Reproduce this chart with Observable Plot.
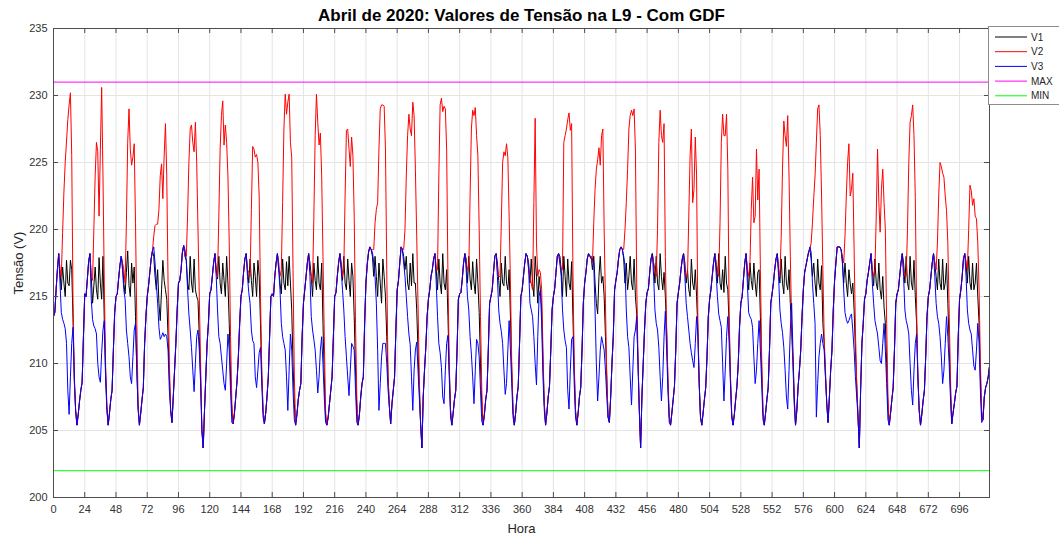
<!DOCTYPE html>
<html><head><meta charset="utf-8">
<script src="https://cdn.jsdelivr.net/npm/d3@7"></script>
<script src="https://cdn.jsdelivr.net/npm/@observablehq/plot@0.6"></script>
<style>
body{margin:0;background:#fff;}
#wrap{position:relative;width:1059px;height:538px;overflow:hidden;font-family:"Liberation Sans",Arial,sans-serif;}
#legend{position:absolute;left:988px;top:26px;}
</style></head><body><div id="wrap"></div>
<script>
// ---- labels ----
const titleText = "Abril de 2020: Valores de Tensão na L9 - Com GDF";
const xLabel = "Hora";
const yLabel = "Tensão (V)";
const seriesNames = ["V1", "V2", "V3", "MAX", "MIN"];
const seriesColors = ["#000000", "#ff0000", "#0000ff", "#ff00ff", "#00ff00"];
const xTicks = [0,24,48,72,96,120,144,168,192,216,240,264,288,312,336,360,384,408,432,456,480,504,528,552,576,600,624,648,672,696];
const yTicks = [200,205,210,215,220,225,230,235];
const xDomain = [0, 719];
const yDomain = [200, 235];
const maxLimit = 231;
const minLimit = 202;

// ---- values, hour by hour, one row per day of April ----
// hours 0-4 and 18-23 of each day: the three phases run together
const nightEnd = [
[213.5,213.8,215.5,217.0,218.2],[215.2,215.0,216.3,217.6,218.2],[215.0,215.2,216.3,217.3,218.0],[215.0,215.8,216.8,217.8,218.4],
[216.0,216.2,217.0,218.3,218.8],[215.2,215.5,216.5,217.5,218.2],[215.0,215.5,216.8,217.8,218.2],[215.2,215.0,216.5,217.5,218.2],
[214.5,215.5,216.5,217.5,218.2],[215.0,215.3,216.5,217.5,218.2],[216.0,217.4,218.3,218.7,218.5],[215.5,216.2,217.5,218.7,218.5],
[214.8,215.5,216.5,217.0,217.8],[215.2,215.3,216.3,217.5,218.2],[215.0,215.5,216.8,218.0,218.2],[215.5,216.5,217.5,218.2,218.0],
[215.0,215.6,216.8,218.0,218.2],[216.0,216.8,217.8,218.2,218.0],[216.2,216.8,217.8,218.5,218.7],[215.3,215.6,216.8,217.8,218.2],
[215.3,216.0,217.0,217.8,218.2],[214.8,215.5,216.5,217.5,218.2],[214.5,215.0,216.3,217.5,218.2],[215.2,216.0,217.0,217.8,218.2],
[215.5,216.8,217.3,217.8,218.3],[216.2,217.5,218.7,218.7,218.7],[215.2,216.2,216.8,217.5,218.2],[215.2,215.5,216.5,217.5,218.2],
[215.0,215.5,216.5,217.5,218.2],[214.8,215.5,216.5,217.8,218.2]
];
const nightStart = [
[205.4,206.2,207.2,208.0,208.6,212.0],[205.4,206.3,207.3,208.0,211.0,213.8],[205.4,206.3,207.3,208.2,211.5,213.5],[206.5,205.6,207.5,209.5,211.5,214.0],
[205.0,203.7,206.5,209.0,211.5,213.0],[205.5,206.3,207.5,208.7,210.5,213.0],[205.5,206.3,207.5,209.0,212.0,215.0],[205.4,206.2,207.3,208.0,208.5,212.0],
[205.4,206.0,207.0,208.0,209.0,212.0],[205.4,206.2,207.5,208.5,209.0,213.0],[206.8,205.5,207.0,208.0,209.0,212.5],[205.5,203.7,207.5,209.5,211.2,213.5],
[205.4,206.3,207.3,208.0,211.0,214.8],[205.4,206.2,207.3,208.0,211.0,214.5],[205.4,206.3,207.5,208.3,211.5,215.0],[205.4,206.3,207.5,208.3,211.0,214.0],
[205.4,206.3,207.5,208.2,211.0,214.5],[206.0,205.6,207.5,210.0,212.0,215.5],[206.5,203.7,207.5,210.0,212.5,214.5],[205.4,206.3,207.3,208.3,211.0,214.5],
[205.4,206.3,207.3,208.2,210.5,213.5],[205.4,206.2,207.3,208.3,210.0,212.8],[205.4,206.3,207.3,208.2,211.0,214.5],[205.4,206.5,208.3,209.5,211.0,213.5],
[207.0,205.6,207.5,209.5,211.0,214.0],[206.0,203.7,208.0,211.5,213.0,214.8],[205.4,206.3,207.3,208.2,211.0,214.5],[205.4,206.2,207.2,208.0,210.5,213.5],
[205.5,206.3,207.0,207.8,208.3,212.0],[205.8,207.5,208.2,208.5,209.0,209.8]
];
// hours 5-17 of each day, per phase
const v1Day = [
[216.8,215.5,217.2,216.0,215.0,217.7,216.0,215.8,217.7,217.0,213.3,208.8,206.5],
[216.5,214.5,215.8,217.2,215.5,214.8,217.9,216.0,214.8,218.0,213.2,209.0,206.5],
[217.5,216.0,215.2,216.8,218.4,215.8,215.0,217.5,216.0,217.2,213.5,209.5,206.6],
[218.0,216.5,215.5,217.0,214.5,213.2,215.5,217.7,216.2,215.5,214.8,212.0,209.0],
[218.0,217.7,216.0,215.5,218.0,216.0,215.3,217.8,215.5,215.0,214.7,212.0,209.0],
[217.0,216.3,218.0,216.0,215.2,217.5,216.2,215.0,218.0,216.0,213.0,209.0,206.5],
[217.0,216.0,217.8,216.2,215.0,217.5,216.5,215.0,217.7,216.5,213.0,209.0,206.5],
[217.5,216.0,215.2,217.8,216.0,215.5,217.6,215.8,218.0,216.0,214.0,210.0,207.0],
[217.5,216.5,215.0,217.5,216.2,215.5,218.0,216.0,215.5,217.5,213.0,209.0,206.0],
[217.5,216.2,218.0,216.0,215.5,217.8,216.2,215.0,217.5,216.5,213.5,209.5,206.5],
[218.0,216.5,218.0,216.5,215.0,217.5,216.0,214.5,217.8,216.5,215.0,212.0,209.0],
[218.0,217.0,218.0,216.0,215.5,217.5,215.8,218.2,216.0,216.0,214.0,211.0,208.0],
[218.2,217.0,215.5,217.8,216.0,215.2,218.2,216.0,215.5,217.0,213.5,209.5,206.5],
[217.8,216.0,218.0,216.3,215.5,217.6,216.0,215.2,217.8,216.0,213.8,210.0,206.8],
[217.5,216.2,215.0,217.5,216.0,215.8,218.0,216.0,215.5,217.0,213.5,209.5,206.5],
[217.5,216.0,217.8,216.0,215.0,218.0,216.5,214.5,216.5,215.5,214.0,210.0,207.0],
[218.0,217.0,215.0,218.0,216.5,215.0,217.8,216.0,215.5,217.6,213.5,209.5,206.5],
[218.0,217.0,218.0,216.0,214.5,213.7,216.5,218.0,216.0,216.5,215.0,212.0,209.0],
[218.5,217.8,216.0,217.5,215.5,216.5,218.0,216.0,215.5,217.8,215.0,213.7,210.0],
[217.5,216.0,218.0,216.0,215.5,218.2,216.5,215.5,216.8,215.0,212.5,208.5,206.0],
[217.5,216.0,217.0,215.5,215.0,217.8,216.0,215.5,217.0,215.0,212.5,208.5,206.0],
[217.5,216.0,218.2,216.0,215.5,217.0,215.3,218.0,216.0,215.5,212.8,209.0,206.2],
[217.0,215.5,217.5,216.2,215.5,217.5,216.0,215.0,216.8,217.0,213.5,209.5,206.3],
[217.0,216.0,217.8,216.0,215.2,218.0,216.0,215.5,217.0,214.5,212.5,210.0,207.0],
[218.5,217.8,216.5,217.5,216.0,215.0,217.8,216.0,215.5,217.3,213.0,211.5,209.0],
[218.5,217.5,216.0,217.5,216.0,215.0,217.0,216.0,215.2,216.0,214.0,211.0,208.5],
[217.0,215.8,217.8,216.0,215.5,217.5,215.5,214.8,216.5,214.2,213.0,210.0,206.8],
[217.5,216.0,218.0,216.0,215.5,218.0,216.0,215.5,217.7,215.0,213.0,209.0,206.5],
[217.5,216.5,215.5,217.8,216.0,215.5,217.8,215.5,216.0,217.5,214.5,211.5,208.0],
[217.5,216.0,218.0,216.0,215.5,217.5,215.5,216.0,217.5,215.0,213.0,209.0,206.0]
];
const v2Day = [
[217.0,216.5,219.8,222.8,225.0,226.6,228.2,229.3,230.2,225.5,214.5,208.5,206.5],
[216.5,216.2,220.0,224.0,226.5,225.8,221.0,226.0,230.6,224.0,216.0,210.0,206.8],
[217.5,217.0,216.0,220.5,226.5,229.0,226.0,224.8,225.4,226.4,220.5,213.0,207.0],
[219.5,220.3,220.4,220.4,221.5,224.0,224.9,222.3,225.5,227.9,224.0,216.0,210.0],
[218.0,218.0,221.0,225.0,227.5,227.8,226.5,225.8,228.0,225.0,220.0,215.0,210.0],
[216.8,216.5,221.0,226.0,228.5,229.6,226.3,227.8,226.5,224.0,219.0,212.0,207.0],
[217.0,216.8,216.5,221.5,226.2,226.0,225.4,225.6,225.0,222.5,215.0,209.5,206.5],
[217.0,216.5,217.0,222.0,227.5,230.1,228.6,229.5,230.1,226.5,225.4,217.0,209.0],
[217.0,216.5,216.0,221.0,227.0,230.1,228.0,226.3,227.2,224.0,218.0,212.0,206.5],
[217.2,216.5,217.0,222.5,227.4,227.5,226.0,224.7,226.9,225.5,221.0,213.0,207.5],
[218.5,218.5,220.5,221.5,222.0,226.0,229.0,229.3,229.3,229.2,226.0,217.0,209.0],
[218.5,220.0,224.0,227.0,228.6,227.5,227.0,229.5,228.5,224.5,219.5,214.5,209.0],
[218.2,217.0,217.0,224.0,229.3,229.8,228.8,229.2,229.0,226.0,216.5,210.0,206.5],
[217.5,217.0,217.0,222.5,227.5,228.9,228.5,229.1,227.0,225.5,220.0,213.5,208.0],
[217.0,216.5,216.5,220.5,225.0,225.8,225.5,226.4,225.4,221.0,216.0,210.0,206.5],
[217.0,216.5,216.0,215.5,222.0,228.3,219.0,216.5,217.0,216.8,215.5,211.0,207.0],
[217.5,217.0,217.0,226.5,227.0,227.5,228.2,228.7,227.4,227.9,217.0,210.0,206.5],
[218.0,217.5,220.5,223.0,224.5,225.2,226.1,224.8,227.0,227.5,220.0,214.5,209.0],
[218.5,218.5,220.0,222.0,224.5,227.5,228.5,228.9,228.5,229.0,226.0,216.0,210.5],
[217.5,217.0,216.5,220.0,226.5,228.9,227.0,226.5,227.9,218.0,212.5,209.0,206.0],
[217.0,216.5,216.5,221.0,225.5,227.5,222.0,223.0,226.9,224.0,213.0,208.5,206.0],
[217.5,217.0,216.5,220.5,226.5,228.6,227.0,227.0,228.6,224.5,214.0,209.0,206.0],
[217.0,216.5,217.5,221.5,223.9,220.5,221.0,226.0,222.2,224.5,217.0,210.5,206.5],
[217.0,216.5,219.5,224.5,228.1,227.0,226.2,228.5,224.0,218.0,213.0,210.5,207.5],
[218.5,219.0,220.5,222.4,224.0,226.5,229.0,229.3,227.0,222.5,217.0,212.0,209.5],
[218.5,218.0,217.5,219.5,222.5,225.0,226.4,222.5,223.0,224.2,218.5,212.5,208.5],
[217.0,216.5,217.0,221.0,226.0,222.0,219.8,223.0,224.5,222.0,220.0,213.0,207.5],
[217.0,216.5,216.5,220.0,225.0,228.0,228.5,229.3,227.0,222.4,214.0,209.0,206.5],
[217.5,217.0,219.0,222.5,225.0,224.7,224.2,223.9,222.5,221.4,219.0,214.0,209.0],
[217.5,217.0,220.0,223.3,222.9,221.8,222.3,221.0,220.8,219.0,215.5,210.0,206.5]
];
const v3Day = [
[216.0,213.8,213.3,213.0,212.6,211.5,208.0,206.2,209.0,211.5,212.7,209.0,206.5],
[214.8,213.3,212.8,212.6,212.2,210.0,209.0,208.6,210.8,212.5,213.2,209.5,206.8],
[217.0,215.5,214.8,212.5,211.5,210.5,209.0,208.5,210.5,212.5,213.0,209.5,206.6],
[218.7,217.5,216.0,214.5,212.7,211.8,212.0,212.3,212.0,212.2,212.0,211.0,208.0],
[218.5,217.7,215.5,213.7,212.5,211.2,209.5,207.9,210.0,212.0,212.5,211.0,208.5],
[216.5,214.0,212.0,211.5,210.5,209.5,208.5,208.0,210.0,212.2,211.0,208.0,205.6],
[216.5,215.3,214.5,212.5,211.7,211.5,209.0,208.2,209.5,210.8,211.2,208.5,206.0],
[217.0,215.5,213.0,212.0,211.5,211.0,209.0,206.5,209.5,212.2,211.0,208.0,205.8],
[216.5,213.5,212.5,211.8,211.0,209.5,207.8,209.0,211.0,212.0,210.0,207.5,205.6],
[217.0,215.5,214.0,212.0,210.5,209.0,207.6,209.5,211.5,211.3,211.0,208.0,205.6],
[218.3,217.5,216.5,214.5,211.0,206.5,208.5,210.5,211.5,211.5,211.5,210.0,208.0],
[217.5,216.5,215.0,213.5,212.2,211.4,209.0,206.5,209.5,211.0,211.6,209.5,207.5],
[218.2,216.0,213.5,211.5,210.8,209.7,207.5,207.0,209.5,211.5,212.1,209.0,206.0],
[217.0,215.0,214.0,212.0,210.7,209.0,207.0,209.5,211.8,211.5,210.5,208.0,205.7],
[216.5,214.0,213.0,212.4,211.5,209.5,207.7,208.5,211.0,213.2,211.0,208.5,206.0],
[217.0,214.5,214.0,213.5,212.0,210.0,208.4,212.0,215.0,215.5,213.0,209.0,206.5],
[217.5,216.5,214.0,212.5,211.7,211.2,208.0,206.6,209.5,211.8,212.0,208.5,206.0],
[217.8,217.8,217.5,214.0,210.0,207.2,209.0,211.0,212.0,211.5,211.0,209.5,207.5],
[218.5,218.0,217.3,214.0,212.0,211.2,209.0,206.9,209.5,212.0,212.5,213.5,210.0],
[216.5,214.0,213.0,212.5,211.2,209.0,207.2,209.0,212.0,213.9,211.0,208.0,205.6],
[216.5,214.5,213.5,212.5,211.5,210.8,210.2,209.7,211.5,213.5,212.0,208.5,206.0],
[216.8,215.0,213.7,213.2,212.7,210.0,207.2,209.5,212.0,213.5,211.5,208.5,206.0],
[216.0,213.8,213.5,213.3,212.7,210.5,208.5,209.5,211.5,213.2,211.0,208.5,205.8],
[216.5,214.0,213.0,212.3,211.2,209.5,207.5,206.6,209.5,212.5,214.5,211.0,207.5],
[218.7,218.3,216.0,214.5,213.0,206.0,208.5,210.5,211.5,212.2,211.5,211.0,209.0],
[218.5,217.8,215.5,213.8,213.3,213.0,213.2,213.5,213.7,212.5,211.0,209.0,207.5],
[216.0,214.5,213.2,212.7,212.2,211.2,210.2,210.0,211.5,213.0,211.0,208.5,205.8],
[216.5,214.0,213.2,212.8,212.2,210.0,208.0,206.9,209.5,211.5,212.2,209.0,206.5],
[216.5,214.5,213.5,213.0,212.0,210.5,208.5,209.5,211.5,213.5,212.0,210.0,207.5],
[216.5,214.0,213.0,212.5,212.2,211.0,209.8,209.5,211.0,213.0,211.5,208.0,205.6]
];

// ---- build the hourly table ----
function buildSeries(dayRows) {
  const out = [];
  for (let d = 0; d < dayRows.length; d++) {
    const vals = [...nightEnd[d], ...dayRows[d], ...nightStart[d]];
    vals.forEach((v, h) => out.push({hour: d * 24 + h, value: v}));
  }
  return out;
}
const s1 = buildSeries(v1Day), s2 = buildSeries(v2Day), s3 = buildSeries(v3Day);

const W = 1059, H = 538, mL = 53, mR = 70, mT = 28, mB = 41;
const innerW = W - mL - mR, innerH = H - mT - mB;
const axisColor = "#4d4d4d", gridColor = "#e4e4e4";
const font = '"Liberation Sans", Arial, sans-serif';

const chart = Plot.plot({
  width: W, height: H,
  marginLeft: mL, marginRight: mR, marginTop: mT, marginBottom: mB,
  x: {domain: xDomain, label: null},
  y: {domain: yDomain, label: null},
  style: {fontFamily: font, fontSize: "11px", color: "#333", background: "white"},
  marks: [
    Plot.ruleX(xTicks, {stroke: gridColor}),
    Plot.ruleY(yTicks, {stroke: gridColor}),
    Plot.line(s1, {x: "hour", y: "value", stroke: seriesColors[0], strokeWidth: 1}),
    Plot.line(s2, {x: "hour", y: "value", stroke: seriesColors[1], strokeWidth: 1}),
    Plot.line(s3, {x: "hour", y: "value", stroke: seriesColors[2], strokeWidth: 1}),
    Plot.ruleY([maxLimit], {stroke: seriesColors[3], strokeWidth: 1}),
    Plot.ruleY([minLimit], {stroke: seriesColors[4], strokeWidth: 1}),
    Plot.frame({stroke: axisColor}),
    Plot.ruleX(xTicks, {stroke: axisColor, insetTop: innerH - 5}),
    Plot.ruleX(xTicks, {stroke: axisColor, insetBottom: innerH - 5}),
    Plot.ruleY(yTicks, {stroke: axisColor, insetRight: innerW - 5}),
    Plot.ruleY(yTicks, {stroke: axisColor, insetLeft: innerW - 5}),
    Plot.axisX({ticks: xTicks, tickSize: 0, tickPadding: 8, fontSize: 11}),
    Plot.axisY({ticks: yTicks, tickSize: 0, tickPadding: 6, fontSize: 11}),
    Plot.text([titleText], {frameAnchor: "top", dy: -13, lineAnchor: "middle", textAnchor: "middle", fontWeight: "bold", fontSize: 17, fill: "#000"}),
    Plot.text([xLabel], {frameAnchor: "bottom", dy: 31, lineAnchor: "middle", textAnchor: "middle", fontSize: 13, fill: "#262626"}),
    Plot.text([yLabel], {frameAnchor: "left", dx: -35, rotate: -90, lineAnchor: "middle", textAnchor: "middle", fontSize: 13, fill: "#262626"})
  ]
});
const wrap = document.getElementById("wrap");
wrap.appendChild(chart);

// ---- legend ----
const ns = "http://www.w3.org/2000/svg";
const leg = document.createElementNS(ns, "svg");
leg.setAttribute("id", "legend");
leg.setAttribute("width", 72);
leg.setAttribute("height", 80);
const box = document.createElementNS(ns, "rect");
box.setAttribute("x", 0.5); box.setAttribute("y", 0.5);
box.setAttribute("width", 90); box.setAttribute("height", 78);
box.setAttribute("fill", "white"); box.setAttribute("stroke", "#8c8c8c");
leg.appendChild(box);
seriesNames.forEach((name, i) => {
  const y = 11 + i * 14.7;
  const ln = document.createElementNS(ns, "line");
  ln.setAttribute("x1", 7); ln.setAttribute("x2", 39);
  ln.setAttribute("y1", y); ln.setAttribute("y2", y);
  ln.setAttribute("stroke", seriesColors[i]); ln.setAttribute("stroke-width", 1);
  leg.appendChild(ln);
  const tx = document.createElementNS(ns, "text");
  tx.setAttribute("x", 43); tx.setAttribute("y", y + 3.6);
  tx.setAttribute("font-size", 10); tx.setAttribute("font-family", font);
  tx.setAttribute("fill", "#262626");
  tx.textContent = name;
  leg.appendChild(tx);
});
wrap.appendChild(leg);
</script></body></html>
